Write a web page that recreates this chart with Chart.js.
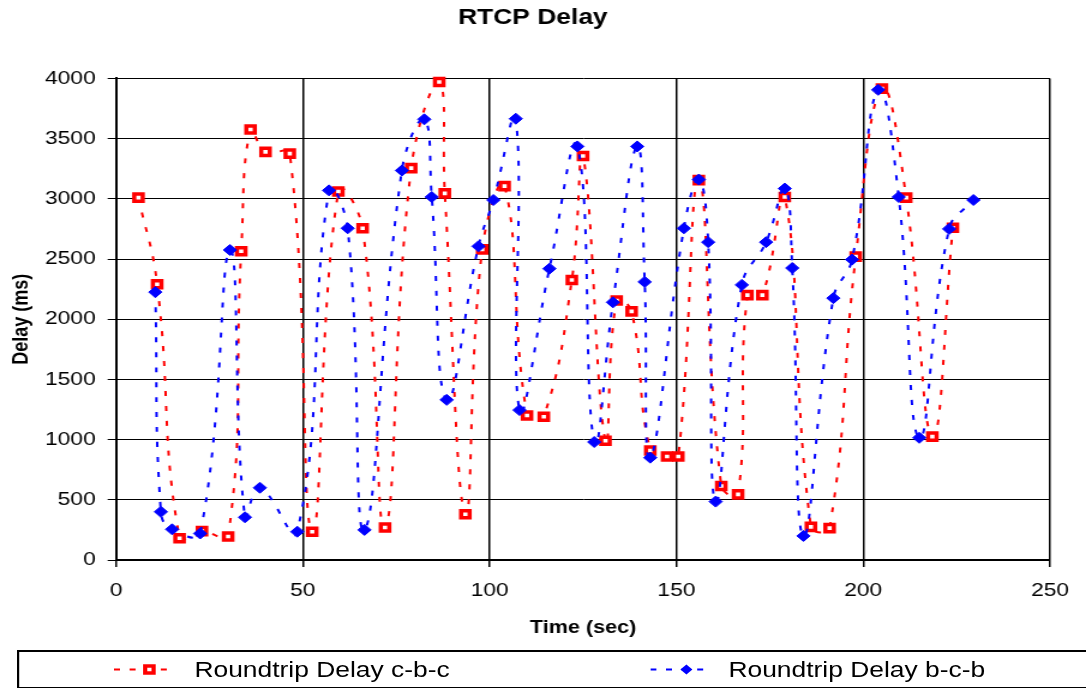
<!DOCTYPE html>
<html>
<head>
<meta charset="utf-8">
<title>RTCP Delay</title>
<script src="https://cdn.jsdelivr.net/npm/chart.js@4.4.0/dist/chart.umd.min.js"></script>
<style>
  body { margin: 0; background: #fff; overflow: hidden; }
  /* the original is an Excel chart stretched sideways, so stretch ours the same way */
  #wrap { position: relative; width: 905px; height: 688px; transform: scaleX(1.2); transform-origin: 0 0; }
  #grafico { position: absolute; left: 0; top: 0; }
  #legenda {
    position: absolute; left: 14px; top: 650px; width: 1000px; height: 35px;
    border-top: 2px solid #000; border-left: 2px solid #000; border-bottom: 1px solid #000;
    font: 22px "Liberation Sans", Arial, sans-serif; color: #000;
  }
  #legenda svg, #legenda span { position: absolute; top: 0; }
  #legenda span { line-height: 35px; white-space: nowrap; }
</style>
</head>
<body>
<div id="wrap">
  <canvas id="grafico" width="905" height="650"></canvas>
  <div id="legenda">
    <svg style="left:79px" width="50" height="35">
      <line x1="0" y1="17.5" x2="50" y2="17.5" stroke="#ff0000" stroke-width="2" stroke-dasharray="5 8"/>
      <rect x="26" y="14" width="7" height="7" fill="#fff" stroke="#ff0000" stroke-width="3.5"/>
    </svg>
    <span style="left:146px">Roundtrip Delay c-b-c</span>
    <svg style="left:526px" width="50" height="35">
      <line x1="0" y1="17.5" x2="50" y2="17.5" stroke="#0000ff" stroke-width="2" stroke-dasharray="5 8"/>
      <polygon points="30,12.5 35,17.5 30,22.5 25,17.5" fill="#0000ff"/>
    </svg>
    <span style="left:591px">Roundtrip Delay b-c-b</span>
  </div>
</div>

<script>
// === Dados ===
// Roundtrip Delay c-b-c
const tempoCBC = [6, 11, 17, 23, 30, 33.5, 36, 40, 46.5, 52.5,
  59.5, 66, 72, 79, 86.5, 88, 93.5, 98, 104, 110,
  114.5, 122, 125, 131, 134, 138, 143, 147.5, 150.5, 156,
  162, 166.5, 169, 173, 179, 186, 191, 198, 205, 211.5,
  218.5, 224];
const atrasoCBC = [3010, 2290, 180, 240, 195, 2565, 3575, 3390, 3375, 235,
  3060, 2755, 270, 3255, 3970, 3045, 380, 2580, 3105, 1200,
  1190, 2325, 3355, 990, 2155, 2065, 910, 860, 860, 3155,
  615, 545, 2200, 2200, 3015, 275, 265, 2520, 3915, 3010,
  1025, 2760];

// Roundtrip Delay b-c-b
const tempoBCB = [10.5, 12, 15, 22.5, 30.5, 34.5, 38.5, 48.5, 57, 62,
  66.5, 76.5, 82.5, 84.5, 88.5, 97, 101, 107, 108, 116,
  123.5, 128, 133, 139.5, 141.5, 143, 152, 156, 158.5, 160.5,
  167.5, 174, 179, 181, 184, 192, 197, 204, 209.5, 215,
  223, 229.5];
const atrasoBCB = [2225, 400, 255, 220, 2575, 355, 600, 235, 3070, 2755,
  250, 3235, 3660, 3015, 1330, 2605, 2990, 3665, 1245, 2420,
  3435, 980, 2140, 3435, 2310, 850, 2755, 3160, 2640, 485,
  2285, 2640, 3085, 2425, 200, 2175, 2495, 3905, 3015, 1015,
  2750, 2990];

// eixos
const eixoX = { min: 0, max: 250, passo: 50 };
const eixoY = { min: 0, max: 4000, passo: 500 };

const pontos = (xs, ys) => xs.map((x, i) => ({ x, y: ys[i] }));

const fonte = '"Liberation Sans", Arial, sans-serif';
Chart.defaults.font.family = fonte;
Chart.defaults.color = "#000";

new Chart(document.getElementById("grafico"), {
  type: "line",
  data: {
    datasets: [
      {
        label: "Roundtrip Delay c-b-c",
        data: pontos(tempoCBC, atrasoCBC),
        borderColor: "#ff0000",
        borderWidth: 2,
        borderDash: [5, 10],
        tension: 0.45,
        pointStyle: "rect",
        pointRadius: 5,
        pointBorderWidth: 3.5,
        pointBackgroundColor: "#ffffff",
        pointBorderColor: "#ff0000",
        clip: false,
        order: 1,
      },
      {
        label: "Roundtrip Delay b-c-b",
        data: pontos(tempoBCB, atrasoBCB),
        borderColor: "#0000ff",
        borderWidth: 2,
        borderDash: [5, 10],
        tension: 0.45,
        pointStyle: "rectRot",
        pointRadius: 5.5,
        pointBorderWidth: 1,
        pointBackgroundColor: "#0000ff",
        pointBorderColor: "#0000ff",
        clip: false,
        order: 0,
      },
    ],
  },
  options: {
    responsive: false,
    animation: false,
    layout: { padding: { left: 13, right: 30, top: 0, bottom: 0 } },
    plugins: {
      legend: { display: false },
      tooltip: { enabled: false },
      title: {
        display: true,
        text: "RTCP Delay",
        font: { size: 22, weight: "bold" },
        padding: { top: 5, bottom: 47 },
      },
    },
    scales: {
      x: {
        type: "linear",
        min: eixoX.min,
        max: eixoX.max,
        ticks: { stepSize: eixoX.passo, padding: 12, font: { size: 19 }, maxRotation: 0, callback: v => String(v) },
        grid: { color: "#000", lineWidth: 1.5, tickLength: 7 },
        border: { color: "#000", width: 2 },
        title: { display: true, text: "Time (sec)", font: { size: 18, weight: "bold" }, padding: { top: 0, bottom: 11 } },
        afterFit: s => { s.height = 90; },
      },
      y: {
        min: eixoY.min,
        max: eixoY.max,
        ticks: { stepSize: eixoY.passo, padding: 10, font: { size: 19 }, callback: v => String(v) },
        grid: { color: "#000", lineWidth: 1, tickLength: 7 },
        border: { color: "#000", width: 2 },
        title: { display: true, text: "Delay (ms)", font: { size: 18, weight: "bold" }, padding: { top: -6, bottom: 0 } },
        afterFit: s => { s.width = 83.7; },
      },
    },
  },
});
</script>
</body>
</html>
